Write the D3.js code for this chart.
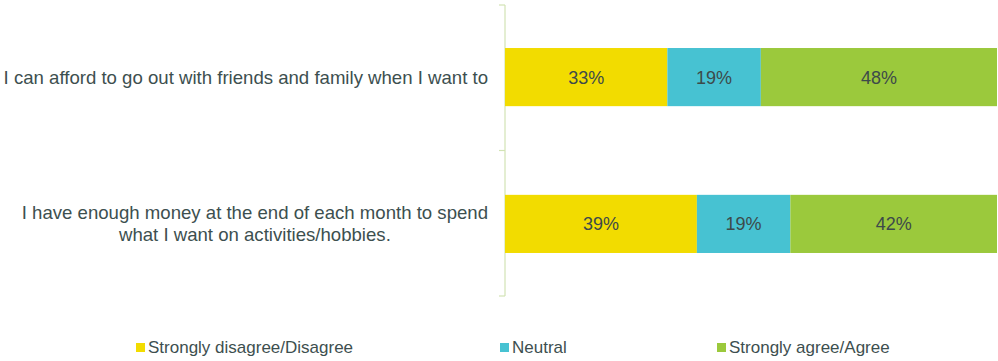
<!DOCTYPE html>
<html><head><meta charset="utf-8">
<script src="https://cdn.jsdelivr.net/npm/d3@7/dist/d3.min.js"></script>
<style>body{margin:0;background:#fff}svg{display:block}text{font-family:"Liberation Sans",Arial,sans-serif}</style>
</head><body><svg id="c" width="998" height="361"></svg>
<script>
const categories = [
  ["I can afford to go out with friends and family when I want to"],
  ["I have enough money at the end of each month to spend", "what I want on activities/hobbies."]
];
const seriesNames = ["Strongly disagree/Disagree", "Neutral", "Strongly agree/Agree"];
const seriesColors = ["#F2DC00", "#47C2D2", "#9BC93C"];
const disagree = [33, 39];
const neutral = [19, 19];
const agree = [48, 42];

const svg = d3.select("#c");
const x0 = 505, x1 = 997, yTop = 5, yBot = 296;
const x = d3.scaleLinear().domain([0, 100]).range([x0, x1]);
const y = d3.scaleBand().domain(d3.range(categories.length)).range([yTop, yBot]).paddingInner(0.604).paddingOuter(0.293);

const data = categories.map((c, i) => ({i, disagree: disagree[i], neutral: neutral[i], agree: agree[i]}));
const stack = d3.stack().keys(["disagree", "neutral", "agree"])(data);

// axis
const axisG = svg.append("g");
axisG.append("line").attr("x1", x0).attr("x2", x0).attr("y1", yTop).attr("y2", yBot).attr("stroke", "#d2e3b4").attr("stroke-width", 1.2);
const bounds = [yTop, (yTop + yBot) / 2, yBot];
bounds.forEach(b => axisG.append("line").attr("x1", x0 - 6).attr("x2", x0).attr("y1", b).attr("y2", b).attr("stroke", "#d2e3b4").attr("stroke-width", 1.2));

stack.forEach((s, k) => {
  const g = svg.append("g");
  g.selectAll("rect").data(s).join("rect")
    .attr("x", d => x(d[0])).attr("width", d => x(d[1]) - x(d[0]))
    .attr("y", (d, i) => y(i)).attr("height", y.bandwidth())
    .attr("fill", seriesColors[k]);
  g.selectAll("text").data(s).join("text")
    .attr("x", d => (x(d[0]) + x(d[1])) / 2)
    .attr("y", (d, i) => y(i) + y.bandwidth() / 2 + 6.5)
    .attr("text-anchor", "middle").attr("font-size", 18).attr("fill", "#3d4a4a")
    .text(d => (d[1] - d[0]) + "%");
});

// category labels
categories.forEach((lines, i) => {
  const cy = y(i) + y.bandwidth() / 2;
  const g = svg.append("g");
  const ts = lines.map((l, j) => g.append("text").attr("font-size", 18.6).attr("fill", "#3d4f4f").text(l));
  const w = d3.max(ts, t => t.node().getComputedTextLength());
  const lh = 22;
  ts.forEach((t, j) => t.attr("text-anchor", "middle").attr("x", 488 - w / 2)
    .attr("y", cy + (j - (lines.length - 1) / 2) * lh + 6.5));
});

// legend
const legX = [136, 500, 717];
seriesNames.forEach((n, k) => {
  svg.append("rect").attr("x", legX[k]).attr("y", 343).attr("width", 9).attr("height", 9).attr("fill", seriesColors[k]);
  svg.append("text").attr("x", legX[k] + 12).attr("y", 353).attr("font-size", 17).attr("fill", "#3d4f4f").text(n);
});
</script></body></html>
